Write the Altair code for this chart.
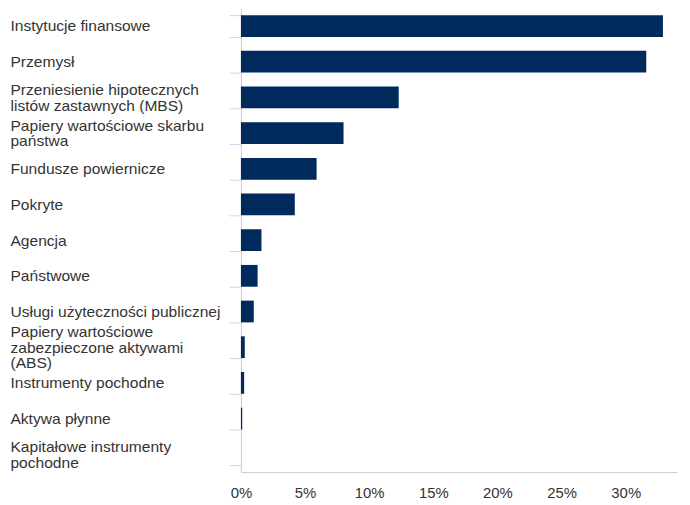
import altair as alt
import pandas as pd

categories = [
    "Instytucje finansowe",
    "Przemysł",
    "Przeniesienie hipotecznych\nlistów zastawnych (MBS)",
    "Papiery wartościowe skarbu\npaństwa",
    "Fundusze powiernicze",
    "Pokryte",
    "Agencja",
    "Państwowe",
    "Usługi użyteczności publicznej",
    "Papiery wartościowe\nzabezpieczone aktywami\n(ABS)",
    "Instrumenty pochodne",
    "Aktywa płynne",
    "Kapitałowe instrumenty\npochodne",
]
values = [32.9, 31.6, 12.3, 8.0, 5.9, 4.2, 1.6, 1.3, 1.0, 0.3, 0.25, 0.1, 0.0]
x_ticks = [0, 5, 10, 15, 20, 25, 30]

df = pd.DataFrame({"cat": categories, "val": values})

chart = (
    alt.Chart(df)
    .mark_bar(color="#002a5c")
    .encode(
        x=alt.X(
            "val:Q",
            scale=alt.Scale(domain=[0, 34], nice=False, zero=True),
            axis=alt.Axis(
                values=x_ticks,
                labelExpr="datum.value + '%'",
                title=None,
                grid=False,
                ticks=False,
                domainColor="#cccccc",
                labelPadding=14,
                labelFontSize=15,
                labelFlush=False,
                labelColor="#333333",
                labelFont="Liberation Sans",
            ),
        ),
        y=alt.Y(
            "cat:N",
            sort=None,
            scale=alt.Scale(paddingInner=0.39, paddingOuter=0.195),
            axis=alt.Axis(
                title=None,
                labelExpr="split(datum.label, '\\n')",
                labelOffset=alt.ExprRef("-(length(split(datum.label, '\\n')) - 1) * 8"),
                labelAlign="left",
                labelBaseline="middle",
                labelPadding=221,
                labelLineHeight=16,
                labelFontSize=15.7,
                labelColor="#333333",
                labelFont="Liberation Sans",
                labelLimit=300,
                tickSize=12,
                tickColor="#ccd6eb",
                tickBand="extent",
                domainColor="#cccccc",
            ),
        ),
        tooltip=["cat", "val"],
    )
    .properties(
        width=440,
        height=468,
        autosize=alt.AutoSizeParams(type="none"),
        padding={"left": 235, "top": -2, "right": 5, "bottom": 30},
    )
    .configure_view(stroke=None)
)

chart.save("out.html", embed_options={"renderer": "svg", "actions": False})
